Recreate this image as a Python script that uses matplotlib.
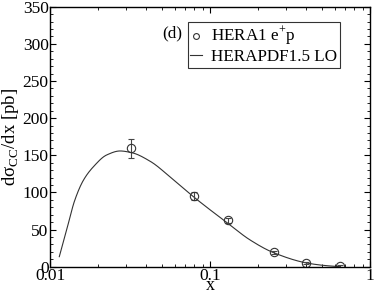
import numpy as np
import matplotlib.pyplot as plt
from matplotlib.ticker import MultipleLocator, LogLocator, NullFormatter

plt.rcParams['font.family'] = ['Liberation Serif', 'DejaVu Serif']
plt.rcParams['mathtext.fontset'] = 'custom'
plt.rcParams['mathtext.rm'] = 'Liberation Serif'

# data
x_data = [0.032, 0.08, 0.13, 0.25, 0.4, 0.65]
y_data = [159.5, 95.0, 62.5, 19.5, 5.0, 0.8]
y_err = [13.0, 5.0, 3.5, 2.0, 1.5, 1.0]

# HERAPDF1.5 LO curve
x_fit = [0.01143, 0.0127, 0.0143, 0.0162, 0.0187, 0.0226, 0.0274, 0.0324,
         0.0422, 0.059, 0.0806, 0.13, 0.178, 0.249, 0.402, 0.511, 0.65]
y_fit = [13.5, 49.4, 89.8, 116.7, 134.7, 150.4, 155.8, 153.5,
         142.0, 117.0, 92.5, 58.0, 36.0, 19.0, 5.0, 1.8, 0.0]


def pchip(xk, yk, xs):
    # monotone cubic hermite, numpy only
    xk = np.asarray(xk, float)
    yk = np.asarray(yk, float)
    h = np.diff(xk)
    d = np.diff(yk) / h
    m = np.zeros_like(yk)
    for i in range(1, len(yk) - 1):
        if d[i-1] * d[i] > 0:
            w1 = 2*h[i] + h[i-1]
            w2 = h[i] + 2*h[i-1]
            m[i] = (w1 + w2) / (w1/d[i-1] + w2/d[i])
    m[0] = d[0]
    m[-1] = d[-1]
    idx = np.clip(np.searchsorted(xk, xs) - 1, 0, len(h) - 1)
    t = (xs - xk[idx]) / h[idx]
    h00 = 2*t**3 - 3*t**2 + 1
    h10 = t**3 - 2*t**2 + t
    h01 = -2*t**3 + 3*t**2
    h11 = t**3 - t**2
    return (h00*yk[idx] + h10*h[idx]*m[idx] + h01*yk[idx+1]
            + h11*h[idx]*m[idx+1])


fig = plt.figure(figsize=(3.74, 2.93), dpi=100)
ax = fig.add_axes([50/374, 1-266.7/293, 320/374, 260/293])

lx = np.log10(x_fit)
lxs = np.linspace(lx[0], lx[-1], 400)
ys = pchip(lx, y_fit, lxs)
ax.plot(10**lxs, ys, color='#333333', lw=0.8, label='HERAPDF1.5 LO')

ax.errorbar(x_data, y_data, yerr=y_err, fmt='none', ecolor='#444444',
            elinewidth=0.8, capsize=2, capthick=0.8)
ax.plot(x_data, y_data, 'o', mfc='none', mec='#333333', ms=6, mew=0.8,
        label='HERA1 e$^{+}$p')

ax.set_xscale('log')
ax.set_xlim(0.01, 1)
ax.set_ylim(0, 350)
ax.yaxis.set_major_locator(MultipleLocator(50))
ax.yaxis.set_minor_locator(MultipleLocator(10))
ax.xaxis.set_minor_locator(LogLocator(base=10, subs=np.arange(2, 10)))
ax.xaxis.set_minor_formatter(NullFormatter())
ax.set_xticks([0.01, 0.1, 1])
ax.set_xticklabels(['0.01', '0.1', '1'])

ax.tick_params(which='both', direction='in', top=True, right=True, labelsize=12.5)
ax.tick_params(which='major', length=4.5, width=0.8)
ax.tick_params(which='minor', length=2.5, width=0.6)
ax.tick_params(axis='y', pad=1)
ax.tick_params(axis='x', pad=1)
for s in ax.spines.values():
    s.set_linewidth(1.0)

ax.set_xlabel('x', fontsize=13, labelpad=-5)
ax.set_ylabel('dσ$_{\\rm CC}$/dx [pb]', fontsize=13.5, labelpad=1)

h, l = ax.get_legend_handles_labels()
leg = ax.legend(h[::-1], l[::-1], loc='upper right', bbox_to_anchor=(0.905, 0.94),
                fontsize=12.3, frameon=True, fancybox=False, edgecolor='black',
                handlelength=0.7, handletextpad=0.5, borderpad=0.15,
                labelspacing=0.05, borderaxespad=0, markerscale=0.7)
leg.get_frame().set_linewidth(0.8)

ax.text(162/374, 1-37/293, '(d)', transform=fig.transFigure, fontsize=12.3)

fig.savefig('out.png', dpi=100)
